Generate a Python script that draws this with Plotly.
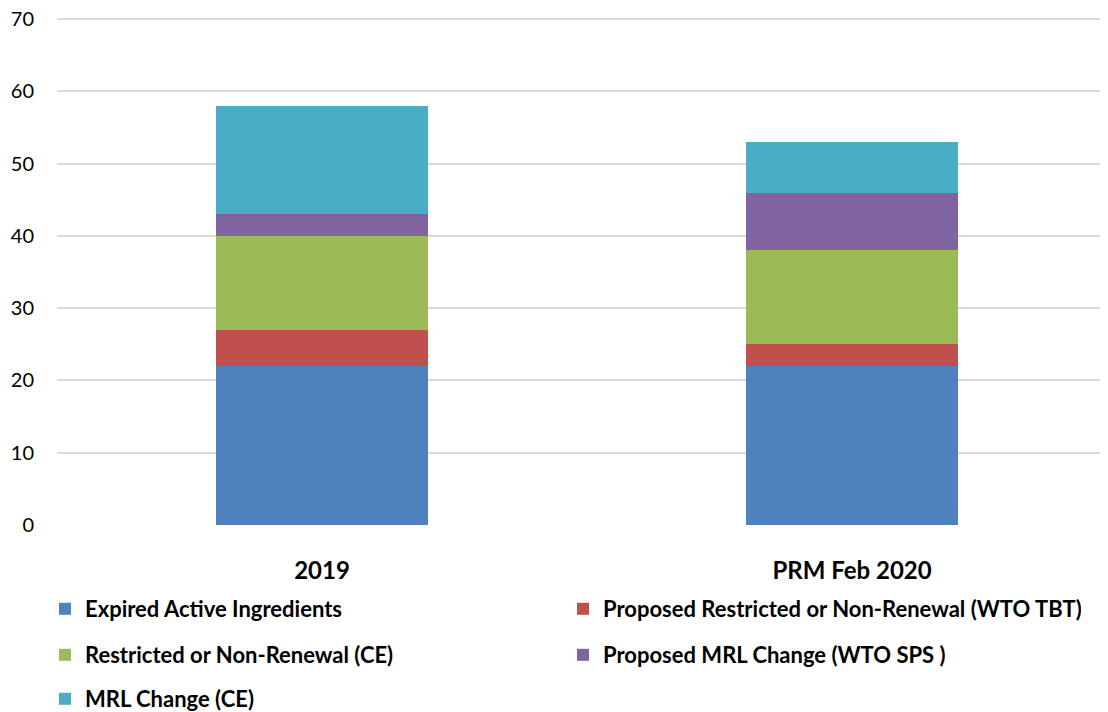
import plotly.graph_objects as go

categories = ["2019", "PRM Feb 2020"]
series_names = [
    "Expired Active Ingredients",
    "Proposed Restricted or Non-Renewal (WTO TBT)",
    "Restricted or Non-Renewal (CE)",
    "Proposed MRL Change (WTO SPS )",
    "MRL Change (CE)",
]
series_values = [
    [22, 22],
    [5, 3],
    [13, 13],
    [3, 8],
    [15, 7],
]
colors = ["#4F81BD", "#C0504D", "#9BBB59", "#8064A2", "#4BACC6"]
legend_ids = ["legend", "legend", "legend2", "legend2", "legend3"]
y_ticks = [0, 10, 20, 30, 40, 50, 60, 70]

FONT = "Lato"
W, H = 1108, 712

fig = go.Figure()
for name, vals, col, lg in zip(series_names, series_values, colors, legend_ids):
    fig.add_trace(go.Bar(
        x=categories, y=vals, name=name,
        marker=dict(color=col, line=dict(width=0)),
        width=0.4, legend=lg,
    ))

def legend_cfg(y_center):
    return dict(
        orientation="h", xref="container", yref="container",
        x=37 / W, xanchor="left", y=1 - y_center / H, yanchor="middle",
        entrywidth=473, entrywidthmode="pixels",
        font=dict(family=FONT, size=22, color="#000000", weight="bold"),
        bgcolor="rgba(0,0,0,0)", traceorder="normal", borderwidth=0,
    )

fig.update_layout(
    width=W, height=H,
    margin=dict(l=49, r=8, t=9, b=195, autoexpand=False),
    barmode="stack",
    plot_bgcolor="white", paper_bgcolor="white",
    showlegend=True,
    legend=legend_cfg(601),
    legend2=legend_cfg(647),
    legend3=legend_cfg(691),
    xaxis=dict(
        range=[-0.5, 1.483], showgrid=False, showline=False, zeroline=False,
        ticks="", tickfont=dict(family=FONT, size=24, color="#000000", weight="bold"),
        ticklabelstandoff=29, automargin=False,
    ),
    yaxis=dict(
        range=[0, 70.3], tickvals=y_ticks, showgrid=True, gridcolor="#D9D9D9",
        gridwidth=1.5, zeroline=False, showline=False, ticks="",
        tickfont=dict(family=FONT, size=20, color="#000000"),
        ticklabelstandoff=22, automargin=False, ticklabeloverflow="allow",
    ),
)

fig.write_html("out.html")
